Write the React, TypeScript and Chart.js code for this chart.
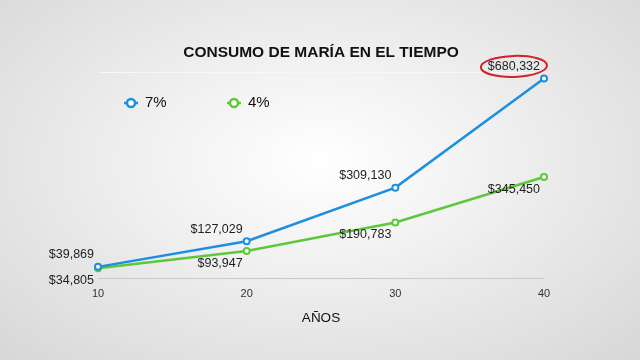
import React, { useEffect, useRef } from "react";
import { Chart, registerables } from "chart.js";

Chart.register(...registerables);

const categories = ["10", "20", "30", "40"];
const series7 = [39869, 127029, 309130, 680332];
const series4 = [34805, 93947, 190783, 345450];
const seriesNames = ["7%", "4%"];
const yTicks = [0, 700000];
const titleText = "CONSUMO DE MARÍA EN EL TIEMPO";
const xTitle = "AÑOS";

const BLUE = "#1d8fe1";
const GREEN = "#5cc93a";
const FONT = "'Liberation Sans', Arial, sans-serif";

const fmt = (v: number) => "$" + v.toLocaleString("en-US");

const labelsPlugin = {
  id: "valueLabels",
  afterDatasetsDraw(chart: any) {
    const ctx = chart.ctx;
    ctx.save();
    ctx.font = `12.5px ${FONT}`;
    ctx.fillStyle = "#1e1e1e";
    ctx.textAlign = "right";
    ctx.textBaseline = "middle";
    chart.data.datasets.forEach((ds: any, di: number) => {
      const meta = chart.getDatasetMeta(di);
      meta.data.forEach((pt: any, i: number) => {
        const v = ds.data[i];
        const off = di === 0 ? -12 : 12.5;
        const tx = pt.x - 4;
        const ty = pt.y + off;
        const txt = fmt(v);
        ctx.fillText(txt, tx, ty);
        if (di === 0 && i === ds.data.length - 1) {
          const w = ctx.measureText(txt).width;
          ctx.save();
          ctx.strokeStyle = "#d3202a";
          ctx.lineWidth = 2;
          ctx.beginPath();
          ctx.ellipse(tx - w / 2, ty, w / 2 + 7, 10.5, -0.03, 0, Math.PI * 2);
          ctx.stroke();
          ctx.restore();
        }
      });
    });
    ctx.restore();
  },
};

const legendPlugin = {
  id: "customLegend",
  afterDraw(chart: any) {
    const ctx = chart.ctx;
    const items = [
      { x: 131, color: BLUE, text: seriesNames[0] },
      { x: 234, color: GREEN, text: seriesNames[1] },
    ];
    const y = 103;
    ctx.save();
    items.forEach((it) => {
      ctx.beginPath();
      ctx.moveTo(it.x - 7, y);
      ctx.lineTo(it.x + 7, y);
      ctx.strokeStyle = it.color;
      ctx.lineWidth = 2.5;
      ctx.stroke();
      ctx.beginPath();
      ctx.arc(it.x, y, 4, 0, Math.PI * 2);
      ctx.fillStyle = "#ffffff";
      ctx.fill();
      ctx.lineWidth = 2.5;
      ctx.stroke();
      ctx.fillStyle = "#111";
      ctx.font = `15px ${FONT}`;
      ctx.textAlign = "left";
      ctx.textBaseline = "middle";
      ctx.fillText(it.text, it.x + 14, y);
    });
    ctx.restore();
  },
};

export default function App() {
  const ref = useRef<HTMLCanvasElement | null>(null);

  useEffect(() => {
    document.body.style.margin = "0";
    if (!ref.current) return;
    const chart = new Chart(ref.current, {
      type: "line",
      data: {
        labels: categories,
        datasets: [
          {
            label: seriesNames[0],
            data: series7,
            borderColor: BLUE,
            backgroundColor: "#ffffff",
            borderWidth: 2.5,
            pointRadius: 3,
            pointBorderWidth: 2,
            pointBackgroundColor: "#ffffff",
            pointBorderColor: BLUE,
            tension: 0,
          },
          {
            label: seriesNames[1],
            data: series4,
            borderColor: GREEN,
            backgroundColor: "#ffffff",
            borderWidth: 2.5,
            pointRadius: 3,
            pointBorderWidth: 2,
            pointBackgroundColor: "#ffffff",
            pointBorderColor: GREEN,
            tension: 0,
          },
        ],
      },
      options: {
        animation: false,
        responsive: false,
        layout: { padding: { left: 98, right: 96, top: 0, bottom: 34 } },
        plugins: {
          legend: { display: false },
          tooltip: { enabled: false },
          title: {
            display: true,
            text: titleText,
            color: "#111",
            font: { family: FONT, size: 15.5, weight: "bold" },
            padding: { top: 43, bottom: 11 },
          },
        },
        scales: {
          x: {
            type: "category",
            offset: false,
            grid: { display: false, drawTicks: false },
            border: { display: false },
            ticks: { color: "#333", font: { family: FONT, size: 11 }, padding: 9 },
            title: {
              display: true,
              text: xTitle,
              color: "#111",
              font: { family: FONT, size: 13.5 },
              padding: { top: 0, bottom: 0 },
            },
          },
          y: {
            min: yTicks[0],
            max: yTicks[1],
            afterBuildTicks: (axis: any) => {
              axis.ticks = yTicks.map((v) => ({ value: v }));
            },
            ticks: { display: false },
            border: { display: false },
            grid: {
              drawTicks: false,
              lineWidth: 1,
              color: (c: any) => (c.tick && c.tick.value === 0 ? "#c9c9c9" : "#f7f7f7"),
            },
          },
        },
      },
      plugins: [labelsPlugin, legendPlugin],
    });
    return () => chart.destroy();
  }, []);

  return (
    <div
      style={{
        width: 640,
        height: 360,
        background:
          "radial-gradient(ellipse 70% 75% at 50% 45%, #ffffff 0%, #f2f2f2 35%, #d8d8d8 100%)",
      }}
    >
      <canvas ref={ref} width={640} height={360} style={{ display: "block" }} />
    </div>
  );
}
